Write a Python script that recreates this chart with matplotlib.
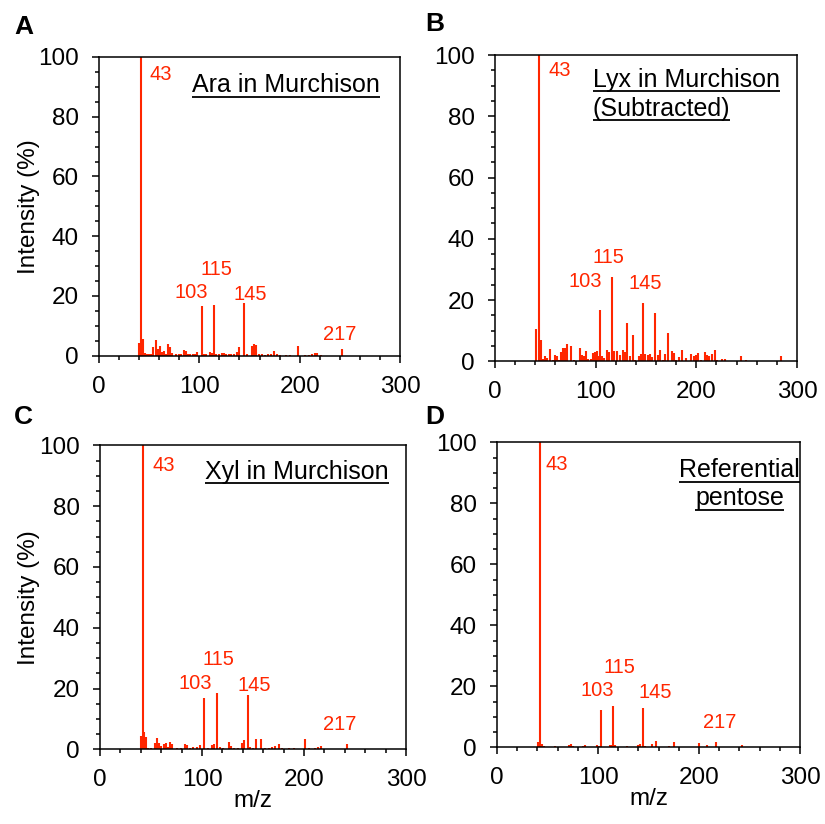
import matplotlib
matplotlib.use("Agg")
import matplotlib.pyplot as plt
from matplotlib.ticker import MultipleLocator

plt.rcParams['font.family'] = ['Liberation Sans', 'DejaVu Sans']

RED = '#ff2600'

# (m/z, relative intensity %)
peaks_a = [(40, 4.1), (42, 100), (44, 5.6), (46, 1.0), (48, 0.5), (50, 0.5), (52, 0.6),
           (54, 2.8), (57, 5.2), (59, 2.2), (61, 3.2), (63, 1.1), (65, 1.7), (67, 0.6),
           (69, 3.9), (71, 2.8), (73, 0.8), (77, 0.5), (80, 0.5), (82, 0.6), (85, 1.9),
           (87, 1.7), (89, 0.6), (91, 0.5), (94, 0.7), (96, 0.7), (98, 1.2), (103, 16.7),
           (105, 0.6), (107, 0.5), (111, 1.4), (113, 0.9), (115, 17.0), (117, 0.6),
           (120, 0.5), (123, 0.8), (125, 0.8), (127, 0.7), (130, 0.7), (132, 0.5),
           (135, 0.6), (138, 1.2), (140, 3.0), (145, 17.5), (148, 0.6), (152, 3.3),
           (154, 3.9), (156, 3.7), (159, 0.5), (162, 0.5), (165, 0.4), (168, 0.5),
           (171, 0.6), (174, 1.7), (177, 0.5), (180, 0.3), (186, 0.3), (190, 0.3),
           (198, 3.2), (205, 0.4), (209, 0.3), (212, 0.5), (215, 1.0), (217, 1.0),
           (221, 0.3), (242, 2.1)]

peaks_b = [(41, 10.5), (44, 100), (46, 6.9), (48, 0.9), (50, 1.6), (52, 1.2), (55, 4.1),
           (58, 0.5), (60, 2.0), (62, 1.6), (64, 0.3), (66, 3.1), (68, 4.2), (70, 4.5),
           (72, 5.5), (75, 4.9), (78, 0.3), (84, 4.5), (86, 2.0), (88, 1.6), (90, 3.4),
           (92, 0.9), (95, 0.9), (97, 2.7), (99, 3.1), (101, 3.4), (102, 1.6), (104, 16.8),
           (106, 1.6), (108, 1.2), (111, 3.6), (113, 3.1), (116, 27.4), (118, 3.4),
           (121, 3.4), (124, 2.0), (127, 3.6), (129, 3.1), (131, 12.4), (134, 1.6),
           (137, 8.5), (139, 0.5), (143, 1.6), (145, 2.5), (147, 19.1), (149, 2.5),
           (152, 2.2), (154, 2.5), (156, 1.4), (159, 15.9), (162, 2.0), (164, 3.6),
           (167, 0.5), (169, 2.5), (172, 9.1), (176, 3.4), (178, 2.7), (180, 0.5),
           (183, 1.4), (186, 3.6), (190, 1.2), (195, 2.3), (198, 1.6), (200, 2.0),
           (202, 2.7), (205, 0.5), (209, 2.9), (211, 2.0), (213, 1.6), (216, 2.3),
           (219, 3.6), (221, 0.3), (225, 0.8), (228, 0.8), (244, 1.6), (249, 0.3),
           (284, 1.6)]

peaks_c = [(40, 4.5), (42, 100), (43, 5.6), (45, 3.9), (47, 0.4), (50, 0.4), (54, 2.0),
           (56, 3.7), (58, 2.0), (60, 1.0), (63, 1.8), (65, 2.0), (67, 0.8), (69, 2.3),
           (71, 1.8), (75, 0.3), (79, 0.4), (83, 1.8), (85, 1.3), (88, 0.5), (91, 0.6),
           (95, 0.6), (98, 1.5), (102, 16.9), (106, 0.5), (110, 1.5), (112, 1.8),
           (115, 18.5), (118, 0.6), (121, 0.4), (126, 2.3), (128, 1.2), (131, 0.5),
           (135, 0.5), (139, 2.0), (141, 3.1), (145, 17.8), (147, 0.6), (150, 0.4),
           (153, 3.4), (158, 3.5), (162, 0.3), (166, 0.4), (169, 0.9), (172, 1.1),
           (175, 1.8), (178, 0.3), (185, 0.3), (190, 0.3), (201, 3.3), (205, 0.4),
           (211, 0.3), (214, 0.6), (217, 1.2), (242, 1.9)]

peaks_d = [(41, 1.6), (43, 100), (45, 1.1), (47, 0.5), (50, 0.2), (53, 0.2), (57, 0.3),
           (62, 0.2), (66, 0.2), (71, 0.7), (73, 1.1), (75, 0.4), (85, 0.4), (87, 0.7),
           (99, 0.7), (101, 0.5), (103, 12.2), (112, 0.7), (113, 0.9), (115, 13.4),
           (117, 0.7), (129, 0.4), (140, 0.9), (142, 1.1), (145, 12.9), (147, 0.5),
           (153, 1.1), (157, 2.0), (170, 0.4), (175, 1.7), (200, 1.3), (208, 0.7),
           (217, 1.6), (243, 0.9)]

panel_letters = ['A', 'B', 'C', 'D']
titles_a = ['Ara in Murchison']
titles_b = ['Lyx in Murchison', '(Subtracted)']
titles_c = ['Xyl in Murchison']
titles_d = ['Referential', 'pentose']
peak_labels = ['43', '103', '115', '145', '217']

fig = plt.figure(figsize=(8.25, 8.24), dpi=100)
W, H = 825.0, 824.0


def px_rect(x0, x1, ytop, ybot):
    return [x0 / W, 1 - ybot / H, (x1 - x0) / W, (ybot - ytop) / H]


panels = [
    dict(rect=px_rect(99, 400, 57, 355.7), peaks=peaks_a, letter_xy=(14, 15),
         titles=titles_a, title_pos=[(93, 88.2)], title_ha='left',
         lab_pos=[(50, 94), (92, 21.3), (117, 28.7), (150.5, 20.5), (240, 7.1)],
         ylabel=True, xlabel=False),
    dict(rect=px_rect(495, 797, 55, 361.3), peaks=peaks_b, letter_xy=(425, 12),
         titles=titles_b, title_pos=[(97, 89.7), (97, 80.1)], title_ha='left',
         lab_pos=[(53, 94.8), (90, 26), (113, 33.8), (149, 25.5), None],
         ylabel=False, xlabel=False),
    dict(rect=px_rect(100, 406, 445.3, 749.3), peaks=peaks_c, letter_xy=(14, 405),
         titles=titles_c, title_pos=[(103, 89.0)], title_ha='left',
         lab_pos=[(51, 93.5), (93.6, 21.8), (115.7, 29.4), (151, 21), (235, 8)],
         ylabel=True, xlabel=True),
    dict(rect=px_rect(497, 800, 442.3, 747.3), peaks=peaks_d, letter_xy=(425, 405),
         titles=titles_d, title_pos=[(240, 88.6), (240, 79.4)], title_ha='center',
         lab_pos=[(48, 92.6), (99.7, 18.6), (121, 26.2), (156.7, 18), (220.8, 8)],
         ylabel=False, xlabel=True),
]

underline_jobs = []
for letter, p in zip(panel_letters, panels):
    ax = fig.add_axes(p['rect'])
    mz, inten = zip(*p['peaks'])
    ax.vlines(mz, 0, inten, color=RED, lw=1.5)
    ax.set_xlim(0, 300)
    ax.set_ylim(0, 100)
    ax.xaxis.set_major_locator(MultipleLocator(100))
    ax.xaxis.set_minor_locator(MultipleLocator(20))
    ax.yaxis.set_major_locator(MultipleLocator(20))
    ax.yaxis.set_minor_locator(MultipleLocator(5))
    ax.tick_params(which='both', direction='out', width=1.1, labelsize=17.5, pad=9.5)
    ax.tick_params(which='major', length=5)
    ax.tick_params(which='minor', length=3)
    for s in ax.spines.values():
        s.set_linewidth(1.1)

    if p['ylabel']:
        ax.set_ylabel('Intensity (%)', fontsize=17.5)
        ax.yaxis.set_label_coords(-0.195, 0.5)
    if p['xlabel']:
        ax.set_xlabel('m/z', fontsize=17.5)
        ax.xaxis.set_label_coords(0.5, -0.135)

    # peak labels
    for lab, pos in zip(peak_labels, p['lab_pos']):
        if pos is None:
            continue
        if lab == '43':
            ax.text(pos[0], pos[1], lab, color=RED, fontsize=14.5, ha='left', va='center')
        else:
            ax.text(pos[0], pos[1], lab, color=RED, fontsize=14.5, ha='center', va='center')

    for t, pos in zip(p['titles'], p['title_pos']):
        txt = ax.text(pos[0], pos[1], t, fontsize=18, ha=p['title_ha'], va='baseline')
        underline_jobs.append((ax, txt, pos))

    lx, ly = p['letter_xy']
    fig.text(lx / W, 1 - ly / H, letter, fontsize=19, fontweight='bold', va='top', ha='left')

# underline the panel titles
fig.canvas.draw()
renderer = fig.canvas.get_renderer()
for ax, txt, pos in underline_jobs:
    bb = txt.get_window_extent(renderer)
    base = ax.transData.transform(pos)[1] - 4.5
    (x0, y0), (x1, _) = ax.transData.inverted().transform([(bb.x0, base), (bb.x1, base)])
    ax.plot([x0, x1], [y0, y0], color='black', lw=1.3, clip_on=False,
            solid_capstyle='butt')

fig.savefig('out.png', dpi=100)
